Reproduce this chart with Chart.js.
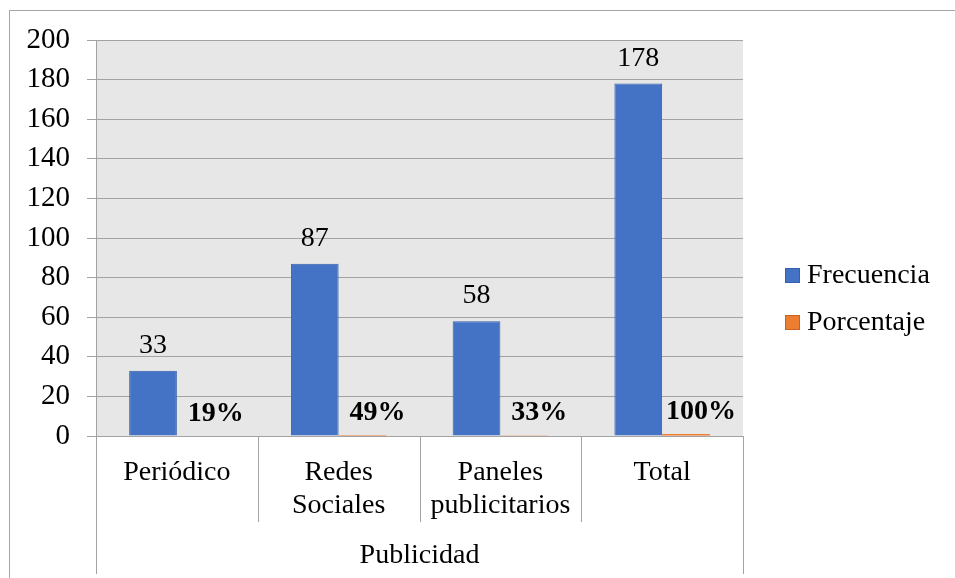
<!DOCTYPE html>
<html>
<head>
<meta charset="utf-8">
<script src="https://cdn.jsdelivr.net/npm/chart.js@4/dist/chart.umd.min.js"></script>
<style>
  html, body { margin: 0; padding: 0; background: #ffffff; }
  canvas { display: block; }
</style>
</head>
<body>
<canvas id="chart" width="955" height="578"></canvas>
<script>
// Categories (multi-line labels) and the group they belong to
const categories = [['Periódico'], ['Redes', 'Sociales'], ['Paneles', 'publicitarios'], ['Total']];
const groupLabel = 'Publicidad';

// Series
const seriesNames = ['Frecuencia', 'Porcentaje'];
const frecuencia = [33, 87, 58, 178];
const porcentaje = [0.19, 0.49, 0.33, 1.00];

// Value axis
const yMin = 0;
const yMax = 200;
const yStep = 20;

const FONT = '"Liberation Serif", "Times New Roman", serif';
const GRID = '#a3a3a3';

const blockPlugin = {
  id: 'blockPlugin',
  beforeDraw(chart) {
    const { ctx, chartArea: a } = chart;
    ctx.save();
    // outer frame
    ctx.strokeStyle = '#a6a6a6';
    ctx.lineWidth = 1;
    ctx.strokeRect(9.5, 10.5, chart.width, chart.height);
    // plot background
    ctx.fillStyle = '#e7e7e7';
    ctx.fillRect(a.left, a.top, a.right - a.left, a.bottom - a.top);
    ctx.restore();
  },
  afterDatasetsDraw(chart) {
    const { ctx } = chart;
    ctx.save();
    ctx.fillStyle = '#000000';
    ctx.textAlign = 'center';
    ctx.textBaseline = 'alphabetic';
    // Frecuencia values above the bars
    const m0 = chart.getDatasetMeta(0);
    ctx.font = '28px ' + FONT;
    m0.data.forEach((bar, i) => {
      ctx.fillText(String(frecuencia[i]), bar.x, bar.y - 18);
    });
    // Porcentaje values
    const m1 = chart.getDatasetMeta(1);
    ctx.font = 'bold 28px ' + FONT;
    m1.data.forEach((bar, i) => {
      ctx.fillText(Math.round(porcentaje[i] * 100) + '%', bar.x + 15, bar.y - 15);
    });
    ctx.restore();
  },
  afterDraw(chart) {
    const { ctx, chartArea: a } = chart;
    const x = chart.scales.x;
    const n = categories.length;
    ctx.save();
    ctx.strokeStyle = GRID;
    ctx.lineWidth = 1;
    // category boundaries below the axis
    const edges = [];
    for (let i = 0; i <= n; i++) {
      if (i === 0) edges.push(a.left);
      else if (i === n) edges.push(a.right);
      else edges.push((x.getPixelForValue(i - 1) + x.getPixelForValue(i)) / 2);
    }
    edges.forEach((ex, i) => {
      const px = Math.round(ex) + 0.5;
      const end = (i === 0 || i === n) ? 574 : 522;
      ctx.beginPath();
      ctx.moveTo(px, a.bottom);
      ctx.lineTo(px, end);
      ctx.stroke();
    });
    // category labels
    ctx.fillStyle = '#000000';
    ctx.textAlign = 'center';
    ctx.textBaseline = 'alphabetic';
    ctx.font = '28px ' + FONT;
    categories.forEach((lines, i) => {
      const cx = x.getPixelForValue(i);
      lines.forEach((t, j) => ctx.fillText(t, cx, 480 + j * 33));
    });
    ctx.fillText(groupLabel, (a.left + a.right) / 2, 563);

    // legend
    ctx.textAlign = 'left';
    ctx.textBaseline = 'middle';
    chart.data.datasets.forEach((ds, i) => {
      const ly = 275 + i * 47;
      ctx.fillStyle = ds.backgroundColor;
      ctx.fillRect(785, ly - 7, 15, 15);
      ctx.strokeStyle = ds.borderColor;
      ctx.strokeRect(785.5, ly - 6.5, 14, 14);
      ctx.fillStyle = '#000000';
      ctx.fillText(ds.label, 807, ly + 1);
    });
    ctx.restore();
  }
};

new Chart(document.getElementById('chart'), {
  type: 'bar',
  data: {
    labels: categories,
    datasets: [
      {
        label: seriesNames[0],
        data: frecuencia,
        backgroundColor: '#4472c4',
        borderColor: '#3660ab',
        borderWidth: 1,
        categoryPercentage: 0.59,
        barPercentage: 1
      },
      {
        label: seriesNames[1],
        data: porcentaje,
        backgroundColor: '#ed7d31',
        borderColor: '#c5631f',
        borderWidth: 0,
        categoryPercentage: 0.59,
        barPercentage: 1
      }
    ]
  },
  options: {
    responsive: false,
    devicePixelRatio: 1,
    animation: false,
    layout: { padding: { top: 40, right: 212, bottom: 142, left: 0 } },
    plugins: {
      legend: { display: false },
      tooltip: { enabled: false }
    },
    scales: {
      x: { display: false },
      y: {
        min: yMin,
        max: yMax,
        afterFit(s) { s.width = 96; },
        ticks: {
          stepSize: yStep,
          padding: 17,
          color: '#000000',
          font: { family: FONT, size: 29 }
        },
        grid: { color: GRID, lineWidth: 1, tickLength: 9 },
        border: { display: true, color: GRID, width: 1 }
      }
    }
  },
  plugins: [blockPlugin]
});
</script>
</body>
</html>
